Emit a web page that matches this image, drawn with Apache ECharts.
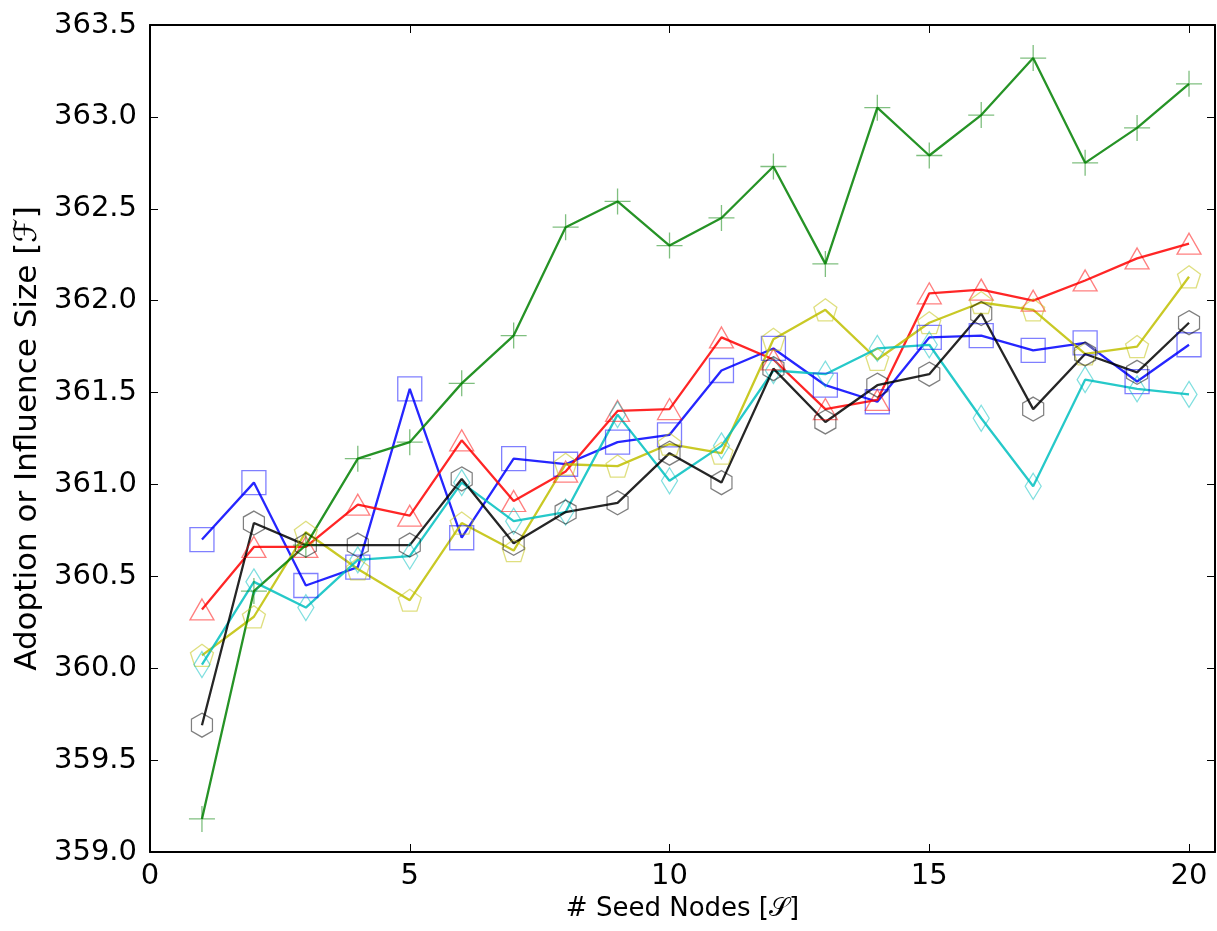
<!DOCTYPE html>
<html>
<head>
<meta charset="utf-8">
<title>Adoption vs seed nodes</title>
<script src="https://cdn.jsdelivr.net/npm/echarts@6/dist/echarts.min.js"></script>
<style>
  html, body { margin: 0; padding: 0; background: #ffffff; }
  #chart { width: 1217px; height: 931px; }
</style>
</head>
<body>
<div id="chart"></div>
<script>
// Number of seed nodes on the x axis
const seedNodes = [1, 2, 3, 4, 5, 6, 7, 8, 9, 10, 11, 12, 13, 14, 15, 16, 17, 18, 19, 20];

// Adoption / influence size for each strategy
const blueSquare = [360.70, 361.01, 360.45, 360.55, 361.52, 360.71, 361.14, 361.11, 361.23, 361.27,
                    361.62, 361.74, 361.54, 361.45, 361.80, 361.81, 361.73, 361.77, 361.56, 361.76];
const redTriangle = [360.32, 360.66, 360.66, 360.89, 360.83, 361.24, 360.91, 361.07, 361.40, 361.41,
                     361.80, 361.68, 361.41, 361.46, 362.04, 362.06, 362.00, 362.11, 362.23, 362.31];
const yellowPentagon = [360.07, 360.28, 360.74, 360.54, 360.37, 360.79, 360.64, 361.11, 361.10, 361.22,
                        361.17, 361.79, 361.95, 361.68, 361.88, 361.99, 361.95, 361.71, 361.75, 362.13];
const cyanDiamond = [360.02, 360.47, 360.33, 360.59, 360.61, 361.01, 360.80, 360.85, 361.38, 361.02,
                     361.21, 361.62, 361.60, 361.74, 361.76, 361.36, 360.99, 361.57, 361.52, 361.49];
const blackHexagon = [359.69, 360.79, 360.67, 360.67, 360.67, 361.03, 360.68, 360.85, 360.90, 361.17,
                      361.01, 361.63, 361.34, 361.54, 361.60, 361.93, 361.41, 361.71, 361.61, 361.88];
const greenPlus = [359.18, 360.42, 360.67, 361.14, 361.23, 361.55, 361.81, 362.40, 362.54, 362.30,
                   362.45, 362.73, 362.20, 363.05, 362.79, 363.01, 363.32, 362.75, 362.94, 363.18];

// Axis range and tick spacing
const xRange = [0, 20.5];
const xStep = 5;
const yRange = [359.0, 363.5];
const yStep = 0.5;

const FONT = 'DejaVu Sans';

const SYMBOLS = {
  pentagon: 'path://M0,-1L0.951,-0.309L0.588,0.809L-0.588,0.809L-0.951,-0.309Z',
  hexagon: 'path://M0,-1L0.866,-0.5L0.866,0.5L0,1L-0.866,0.5L-0.866,-0.5Z',
  plus: 'path://M0,-1L0,1M-1,0L1,0'
};

function makeSeries(values, color, symbol, size) {
  return {
    type: 'line',
    data: seedNodes.map((s, i) => [s, values[i]]),
    symbol: symbol,
    symbolSize: size,
    showAllSymbol: true,
    lineStyle: { color: color, width: 2.3, opacity: 0.85 },
    itemStyle: { color: 'rgba(0,0,0,0)', borderColor: color, borderWidth: 1.3, opacity: 0.5 },
    emphasis: { disabled: true },
    xAxisIndex: 0,
    yAxisIndex: 0
  };
}

function frameAxis(extra) {
  return Object.assign({
    type: 'value',
    axisLine: { show: true, onZero: false, lineStyle: { color: '#000', width: 2 } },
    axisTick: { show: true, inside: true, length: 8, lineStyle: { color: '#000', width: 1 } },
    splitLine: { show: false }
  }, extra);
}

const chart = echarts.init(document.getElementById('chart'), null, { renderer: 'canvas' });

chart.setOption({
  animation: false,
  backgroundColor: '#ffffff',
  grid: { left: 150, right: 2, top: 25, bottom: 79, containLabel: false },
  xAxis: [
    frameAxis({
      position: 'bottom',
      min: xRange[0], max: xRange[1], interval: xStep,
      name: '# Seed Nodes [𝒮]',
      nameLocation: 'middle',
      nameGap: 44,
      nameTextStyle: { fontFamily: FONT, fontSize: 26, color: '#000' },
      axisLabel: { show: true, margin: 10, fontFamily: FONT, fontSize: 29, color: '#000',
                   showMaxLabel: false, formatter: v => String(v) }
    }),
    frameAxis({
      position: 'top',
      min: xRange[0], max: xRange[1], interval: xStep,
      axisLabel: { show: false }
    })
  ],
  yAxis: [
    frameAxis({
      position: 'left',
      min: yRange[0], max: yRange[1], interval: yStep,
      name: 'Adoption or Influence Size [ℱ]',
      nameLocation: 'middle',
      nameGap: 104,
      nameTextStyle: { fontFamily: FONT, fontSize: 31, color: '#000' },
      axisLabel: { show: true, margin: 13, fontFamily: FONT, fontSize: 29, color: '#000',
                   formatter: v => v.toFixed(1) }
    }),
    frameAxis({
      position: 'right',
      min: yRange[0], max: yRange[1], interval: yStep,
      axisLabel: { show: false }
    })
  ],
  series: [
    makeSeries(blueSquare, '#0000ff', 'rect', [24, 24]),
    makeSeries(redTriangle, '#ff0000', 'triangle', [24, 21]),
    makeSeries(yellowPentagon, '#bfbf00', SYMBOLS.pentagon, [23, 22]),
    makeSeries(cyanDiamond, '#00bfbf', 'diamond', [16, 26]),
    makeSeries(blackHexagon, '#000000', SYMBOLS.hexagon, [21, 24]),
    makeSeries(greenPlus, '#008000', SYMBOLS.plus, [26, 26])
  ]
});
</script>
</body>
</html>
